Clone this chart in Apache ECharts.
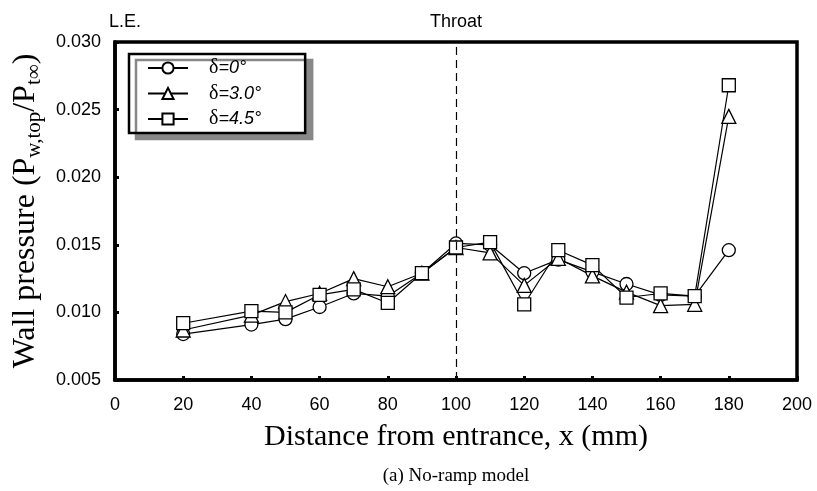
<!DOCTYPE html>
<html><head><meta charset="utf-8">
<script src="https://cdn.jsdelivr.net/npm/echarts@6/dist/echarts.min.js"></script>
<style>html,body{margin:0;padding:0;background:#fff}#c{width:817px;height:491px}</style>
</head><body><div id="c"></div>
<script>
const xValues = [20,40,50,60,70,80,90,100,110,120,130,140,150,160,170,180];
const delta0  = [0.0084,0.0091,0.0095,0.0104,0.0114,0.0112,0.0129,0.0151,0.0150,0.0129,0.0139,0.0130,0.0121,0.0113,0.0112,0.0146];
const delta30 = [0.0087,0.0098,0.0108,0.0114,0.0125,0.0119,0.0129,0.0148,0.0144,0.0120,0.0140,0.0127,0.0115,0.0105,0.0106,0.0245];
const delta45 = [0.0092,0.0101,0.0100,0.0113,0.0117,0.0107,0.0129,0.0148,0.0152,0.0106,0.0146,0.0135,0.0111,0.0114,0.0112,0.0268];
const seriesNames = ['δ=0°','δ=3.0°','δ=4.5°'];
const legendLabels = ['=0°','=3.0°','=4.5°'];
const throatX = 100;

const SANS = '"Liberation Sans", Arial, sans-serif';
const SERIF = '"Liberation Serif", "Times New Roman", serif';

function pairs(v){ return xValues.map((x,i)=>[x,v[i]]); }
function mk(name, data, sym, size){
  return {
    name, type:'line', data:pairs(data), symbol:sym, symbolSize:size,
    showAllSymbol:true,
    lineStyle:{color:'#000', width:1.2},
    itemStyle:{color:'#fff', borderColor:'#000', borderWidth:1.3},
    emphasis:{disabled:true}, animation:false
  };
}
const s0 = mk(seriesNames[0], delta0, 'circle', 13);
const s1 = mk(seriesNames[1], delta30, 'triangle', 14);
const s2 = mk(seriesNames[2], delta45, 'rect', 13);
s0.markLine = {
  silent:true, symbol:['none','none'], animation:false,
  lineStyle:{color:'#000', width:1.2, type:[8,5]},
  label:{show:true, position:'end', formatter:'Throat', color:'#000', fontFamily:SANS, fontSize:18, distance:11},
  data:[{xAxis:throatX}]
};

const chart = echarts.init(document.getElementById('c'));
chart.setOption({
  backgroundColor:'#fff',
  animation:false,
  grid:{left:115, right:20, top:42, bottom:111, show:true, borderColor:'#000', borderWidth:3.5, backgroundColor:'transparent'},
  xAxis:{
    type:'value', min:0, max:200, interval:20,
    axisLine:{lineStyle:{color:'#000', width:3.5}, onZero:false},
    axisTick:{inside:true, length:4, lineStyle:{color:'#000', width:3}},
    splitLine:{show:false},
    axisLabel:{color:'#000', fontFamily:SANS, fontSize:18, margin:16},
    name:'Distance from entrance, x (mm)', nameLocation:'middle', nameGap:42,
    nameTextStyle:{color:'#000', fontFamily:SERIF, fontSize:30}
  },
  yAxis:{
    type:'value', min:0.005, max:0.030, interval:0.005,
    axisLine:{lineStyle:{color:'#000', width:3.5}, onZero:false},
    axisTick:{inside:true, length:4, lineStyle:{color:'#000', width:3}},
    splitLine:{show:false},
    axisLabel:{color:'#000', fontFamily:SANS, fontSize:18, margin:14, formatter:v=>v.toFixed(3)},
    name:'{a|Wall pressure (P}{s|w,top}{a|/P}{s|t∞}{a|)}', nameLocation:'middle', nameGap:66, nameRotate:90,
    nameTextStyle:{color:'#000', rich:{
      a:{fontFamily:SERIF, fontSize:32, color:'#000', lineHeight:38},
      s:{fontFamily:SERIF, fontSize:21, color:'#000', lineHeight:38, verticalAlign:'bottom'}
    }}
  },
  legend:{
    left:129, top:54, width:174, orient:'vertical',
    backgroundColor:'#fff', borderColor:'#000', borderWidth:2.5,
    shadowColor:'#888', shadowBlur:0, shadowOffsetX:7, shadowOffsetY:6,
    padding:[4,44,4,18], itemGap:5.5, itemWidth:40, itemHeight:14,
    data:seriesNames,
    formatter:function(n){ const i=seriesNames.indexOf(n); return '{g|δ}{t|'+legendLabels[i]+'}'; },
    textStyle:{lineHeight:14, rich:{
      g:{fontFamily:SERIF, fontSize:20, color:'#000', padding:[0,0,0,16], lineHeight:14},
      t:{fontFamily:SANS, fontStyle:'italic', fontSize:18, color:'#000', lineHeight:14}
    }},
    selectedMode:false
  },
  graphic:[
    {type:'text', left:109, top:13, style:{text:'L.E.', font:'18px '+SANS, fill:'#000'}},
    {type:'text', x:456, y:476, style:{text:'(a) No-ramp model', font:'19px '+SERIF, fill:'#000', textAlign:'center', textVerticalAlign:'middle'}}
  ],
  series:[s0,s1,s2]
});
</script></body></html>
